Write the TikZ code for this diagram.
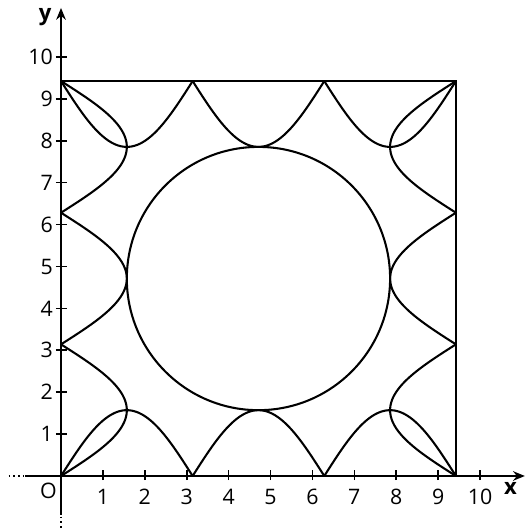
\documentclass[tikz,border=0pt]{standalone}
\usepackage{fontspec}
\setmainfont{Open Sans}
\usetikzlibrary{arrows.meta}
\begin{document}
\begin{tikzpicture}[x=1cm,y=1cm,
  curve/.style={line width=1.4pt, black},
  axisline/.style={line width=1.4pt, black},
  dotline/.style={line width=1.2pt, dotted},
  ticklab/.style={font=\fontsize{14.5}{16}\selectfont, inner sep=0pt},
  axlab/.style={font=\fontsize{15}{17}\selectfont\bfseries, inner sep=0pt}]
\useasboundingbox (-1.456,-1.289) rectangle (11.12,11.36);
\pgfmathsetmacro{\P}{pi}
% axes
\draw[axisline] (-0.85,0) -- (0,0);
\draw[axisline,-{Stealth[length=8pt,width=6.5pt]}] (0,0) -- (11.07,0);
\draw[axisline] (0,-0.92) -- (0,0);
\draw[axisline,-{Stealth[length=8pt,width=6.5pt]}] (0,0) -- (0,11.17);
\draw[dotline] (-1.25,0) -- (-0.9,0);
\draw[dotline] (0,-0.97) -- (0,-1.28);
% ticks and labels
\foreach \i in {1,...,10}{
  \draw[line width=1.1pt] (\i,-0.1) -- (\i,0.15);
  \draw[line width=1.1pt] (-0.12,\i) -- (0.15,\i);
  \node[ticklab, anchor=north] (xl\i) at (\i,-0.3) {\i};
  \node[ticklab, anchor=east] (yl\i) at (-0.19,\i) {\i};
}
\node[ticklab] (O) at (-0.3,-0.36) {O};
\node[axlab] (xlab) at (10.73,-0.3) {x};
\node[axlab] (ylab) at (-0.38,10.95) {y};
% square
\draw[curve] (0,0) rectangle (3*\P,3*\P);
% circle
\draw[curve] (1.5*\P,1.5*\P) circle (\P);
% sine humps
\foreach \k in {0,1,2}{
  \draw[curve] plot[domain=\k*\P:(\k+1)*\P, samples=80, smooth] (\x, {\P/2*abs(sin(\x r))});
  \draw[curve] plot[domain=\k*\P:(\k+1)*\P, samples=80, smooth] (\x, {3*\P-\P/2*abs(sin(\x r))});
  \draw[curve] plot[domain=\k*\P:(\k+1)*\P, samples=80, smooth] ({\P/2*abs(sin(\x r))}, \x);
  \draw[curve] plot[domain=\k*\P:(\k+1)*\P, samples=80, smooth] ({3*\P-\P/2*abs(sin(\x r))}, \x);
}
\end{tikzpicture}
\end{document}
